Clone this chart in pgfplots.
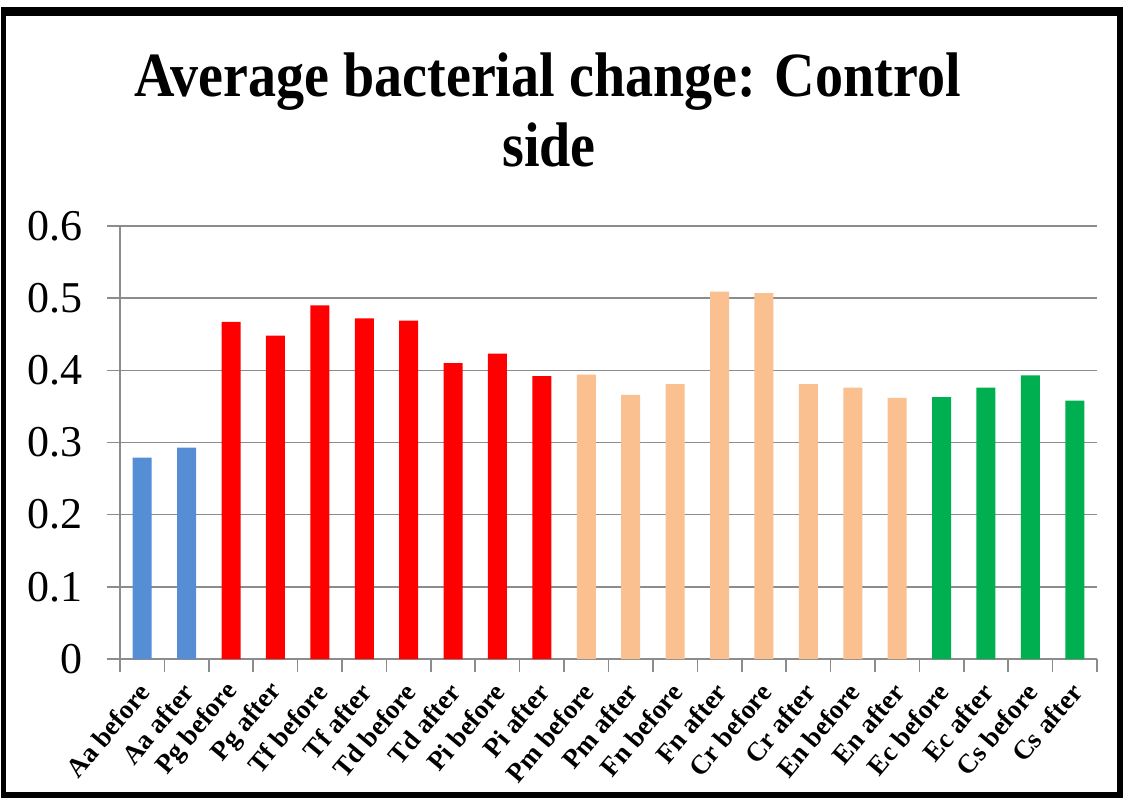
\documentclass[border=0pt]{standalone}
\usepackage{fontspec}
\setmainfont{Liberation Serif}
\usepackage{pgfplots}
\pgfplotsset{compat=1.18}
\usepackage{pgfplotstable}
\definecolor{cblue}{HTML}{558ED5}
\definecolor{cred}{HTML}{FF0000}
\definecolor{corange}{HTML}{FAC090}
\definecolor{cgreen}{HTML}{00B050}
\definecolor{gridgray}{RGB}{140,140,140}
\pgfplotstableread{
x y
0 0.279
1 0.293
}\tblue
\pgfplotstableread{
x y
2 0.467
3 0.448
4 0.490
5 0.472
6 0.469
7 0.410
8 0.423
9 0.392
}\tred
\pgfplotstableread{
x y
10 0.394
11 0.366
12 0.381
13 0.509
14 0.507
15 0.381
16 0.376
17 0.362
}\torange
\pgfplotstableread{
x y
18 0.363
19 0.376
20 0.393
21 0.358
}\tgreen
\begin{document}
\begin{tikzpicture}
\useasboundingbox (0,0) rectangle (561.5pt,399pt);
\fill[white] (0,0) rectangle (561.5pt,399pt);
\fill[black] (0.5pt,0pt) rectangle (561.5pt,395.5pt);
\fill[white] (3pt,3pt) rectangle (558.5pt,391pt);
\node[anchor=base, font=\bfseries\fontsize{31.5}{31.5}\selectfont] at (273.75pt,350.5pt) {\scalebox{0.89}[1]{Average bacterial change: Control}};
\node[anchor=base, font=\bfseries\fontsize{31.5}{31.5}\selectfont] at (274.5pt,315.5pt) {\scalebox{0.89}[1]{side}};
\begin{axis}[
  at={(60pt,69.5pt)}, anchor=south west,
  scale only axis, width=488.5pt, height=216.5pt,
  xmin=-0.5, xmax=21.5, ymin=0, ymax=0.6,
  axis lines*=left,
  axis line style={gridgray, line width=0.8pt},
  ytick={0,0.1,0.2,0.3,0.4,0.5,0.6},
  yticklabels={0,0.1,0.2,0.3,0.4,0.5,0.6},
  ymajorgrids, grid style={gridgray, line width=0.8pt},
  tick align=outside, major tick length=6.5pt,
  tick style={gridgray, line width=0.8pt},
  yticklabel style={font=\fontsize{22}{22}\selectfont, anchor=east, inner sep=0pt, xshift=-12pt},
  xtick={-0.5,0.5,...,21.5}, xticklabel={\empty},
  extra x ticks={0,1,2,3,4,5,6,7,8,9,10,11,12,13,14,15,16,17,18,19,20,21},
  extra x tick labels={Aa before,Aa after,Pg before,Pg after,Tf before,Tf after,Td before,Td after,Pi before,Pi after,Pm before,Pm after,Fn before,Fn after,Cr before,Cr after,En before,En after,Ec before,Ec after,Cs before,Cs after},
  extra x tick style={major tick length=0pt, grid=none,
    tick label style={font=\bfseries\fontsize{13.5}{13.5}\selectfont, xshift=1pt, yshift=-14pt, rotate=50, anchor=east, inner sep=0pt}},
  ybar, bar width=9.5pt,
  /pgf/number format/assume math mode=true,
  clip=false,
]
\addplot[fill=cblue, draw=none, bar shift=0pt] table[x=x,y=y] {\tblue};
\addplot[fill=cred, draw=none, bar shift=0pt] table[x=x,y=y] {\tred};
\addplot[fill=corange, draw=none, bar shift=0pt] table[x=x,y=y] {\torange};
\addplot[fill=cgreen, draw=none, bar shift=0pt] table[x=x,y=y] {\tgreen};
\end{axis}
\end{tikzpicture}
\end{document}
